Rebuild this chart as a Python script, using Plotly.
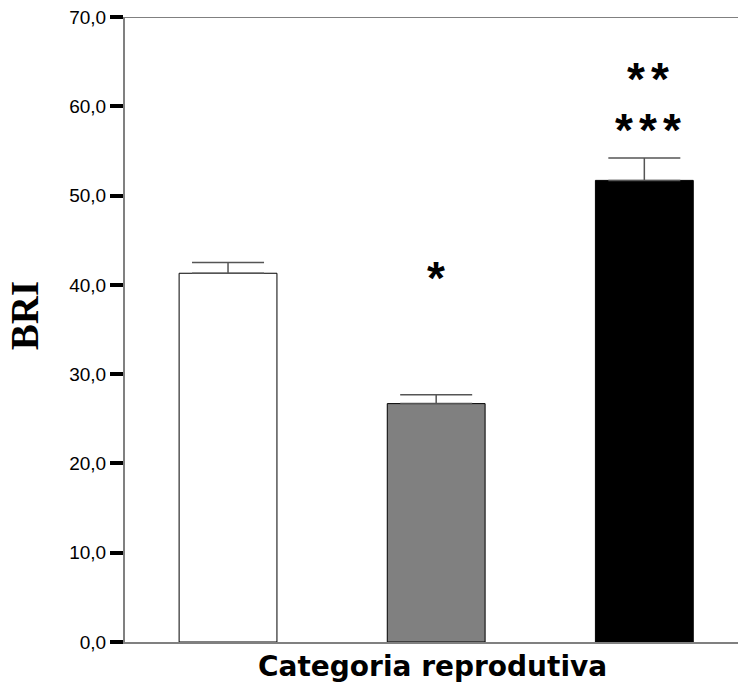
import plotly.graph_objects as go

# Reproductive category means (BRI) with upper standard error
categories = ["A", "B", "C"]
bri_mean = [41.3, 26.7, 51.7]
bri_se = [1.2, 1.0, 2.5]
bar_colors = ["#ffffff", "#808080", "#000000"]

# significance marks: (category index, number of stars, y level of the glyphs)
sig_marks = [(1, 1, 41.5), (2, 3, 58.1), (2, 2, 63.8)]

y_ticks = [0, 10, 20, 30, 40, 50, 60, 70]
y_tick_labels = [f"{v:.1f}".replace(".", ",") for v in y_ticks]

x_pos = list(range(len(categories)))

fig = go.Figure()
fig.add_trace(go.Bar(
    x=x_pos,
    y=bri_mean,
    width=0.47,
    marker=dict(color=bar_colors, line=dict(color="#000000", width=1)),
    error_y=dict(type="data", array=bri_se, arrayminus=[0] * len(bri_se),
                 symmetric=False, color="#555555", thickness=1.5, width=36),
    showlegend=False,
))

star_gap = 24
for xi, n, yy in sig_marks:
    for k in range(n):
        fig.add_annotation(x=xi, y=yy, text="<b>*</b>", showarrow=False,
                           font=dict(family="Liberation Sans", size=46, color="#000000"),
                           xanchor="center", yanchor="middle",
                           xshift=(k - (n - 1) / 2) * star_gap + 4 * (n > 1),
                           yshift=-7)

# top frame line
fig.add_shape(type="line", xref="paper", yref="y", x0=0, x1=1, y0=70, y1=70,
              line=dict(color="#808080", width=2))

# axis titles
fig.add_annotation(xref="paper", yref="paper", x=0.5 + 1 / 613, y=-0.0385,
                   text="<b>Categoria reprodutiva</b>", showarrow=False,
                   font=dict(family="DejaVu Sans", size=28, color="#000000"),
                   xanchor="center", yanchor="middle")
fig.add_annotation(xref="paper", yref="paper", x=-0.164, y=0.522,
                   text="<b>BRI</b>", showarrow=False, textangle=-90,
                   font=dict(family="Liberation Serif", size=39, color="#000000"),
                   xanchor="center", yanchor="middle")

fig.update_layout(
    width=738, height=686,
    margin=dict(l=125, r=0, t=17, b=44),
    paper_bgcolor="#ffffff", plot_bgcolor="#ffffff",
    xaxis=dict(range=[-0.495, 2.45], showticklabels=False, ticks="",
               showline=True, linecolor="#808080", linewidth=2,
               showgrid=False, zeroline=False),
    yaxis=dict(range=[0, 70], tickvals=y_ticks, ticktext=y_tick_labels,
               ticks="outside", ticklen=13, tickwidth=4, tickcolor="#000000",
               showline=True, linecolor="#808080", linewidth=2,
               showgrid=False, zeroline=False,
               tickfont=dict(family="Liberation Sans", size=19, color="#000000")),
)

fig.write_html("out.html")
